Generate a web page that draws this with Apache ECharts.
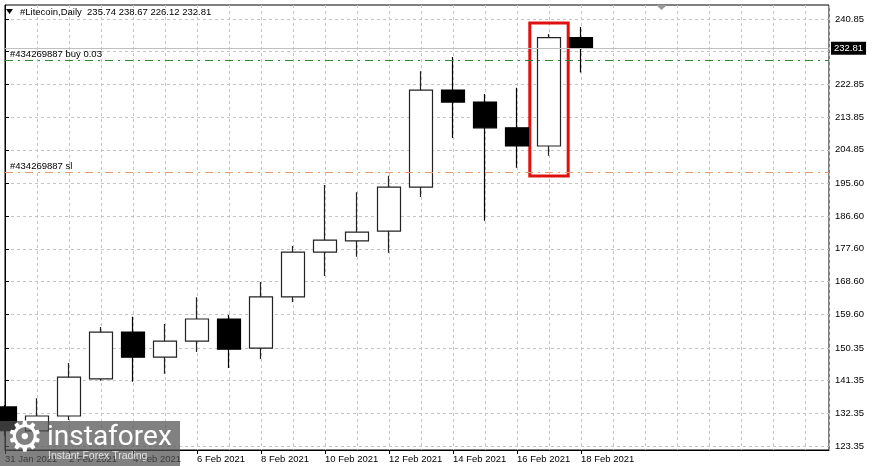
<!DOCTYPE html>
<html>
<head>
<meta charset="utf-8">
<script src="https://cdn.jsdelivr.net/npm/echarts@6/dist/echarts.min.js"></script>
<style>
html,body{margin:0;padding:0;background:#fff;}
#c{width:872px;height:466px;}
</style>
</head>
<body>
<div id="c"></div>
<script>
// ---- data ----
const dates = ['31 Jan 2021','1 Feb 2021','2 Feb 2021','3 Feb 2021','4 Feb 2021','5 Feb 2021','6 Feb 2021','7 Feb 2021','8 Feb 2021','9 Feb 2021','10 Feb 2021','11 Feb 2021','12 Feb 2021','13 Feb 2021','14 Feb 2021','15 Feb 2021','16 Feb 2021','17 Feb 2021','18 Feb 2021'];
const opens  = [134.1, 127.5, 131.6, 141.8, 154.7, 147.8, 152.2, 158.3, 150.3, 164.4, 176.7, 179.8, 182.5, 194.6, 221.3, 218.0, 210.9, 205.9, 235.74];
const closes = [127.6, 131.6, 142.3, 154.7, 147.8, 152.2, 158.3, 150.0, 164.4, 176.7, 180.0, 182.2, 194.6, 221.3, 218.0, 210.9, 205.9, 235.74, 232.81];
const lows   = [126.0, 126.0, 130.5, 141.3, 141.0, 143.2, 149.2, 144.8, 147.3, 163.0, 170.1, 175.4, 176.5, 191.9, 208.1, 185.3, 199.9, 203.2, 226.12];
const highs  = [134.6, 136.5, 146.2, 156.1, 158.9, 156.9, 164.3, 159.4, 168.5, 178.4, 195.2, 193.2, 197.7, 226.5, 230.4, 220.2, 221.9, 236.7, 238.67];
const yTickValues  = [123.35,132.35,141.35,150.35,159.60,168.60,177.60,186.60,195.60,204.85,213.85,222.85,231.85,240.85];
const yLabelValues = [123.35,132.35,141.35,150.35,159.60,168.60,177.60,186.60,195.60,204.85,213.85,222.85,240.85];
const bidPrice = 232.81;
const buyPrice = 229.57;
const slPrice = 198.75;
const orderId = '#434269887';
const header = '#Litecoin,Daily  235.74 238.67 226.12 232.81';
const highlightBox = [[16.4, 239.75], [17.6, 197.65]];

const candleData = dates.map((d, i) => [i, opens[i], closes[i], lows[i], highs[i]]);
const xLabelIdx = dates.map((d, i) => i).filter(i => i % 2 === 0);

const FONT = 'Liberation Sans';
const chart = echarts.init(document.getElementById('c'));
const dashGrid = {show: true, lineStyle: {color: '#c4c4c4', type: [3, 3], width: 1}};

chart.setOption({
  animation: false,
  backgroundColor: '#fff',
  textStyle: {fontFamily: FONT},
  grid: {left: 5, top: 5, right: 43, bottom: 16, show: true, borderColor: '#000', borderWidth: 1, backgroundColor: 'transparent'},
  xAxis: [
    {type: 'value', min: 0, max: 25.75, interval: 1,
     axisLine: {show: true, lineStyle: {color: '#000'}}, axisTick: {show: false}, axisLabel: {show: false},
     splitLine: dashGrid},
    {type: 'value', min: 0, max: 25.75, position: 'bottom',
     axisLine: {show: false},
     axisTick: {show: true, length: 4, customValues: xLabelIdx, lineStyle: {color: '#000'}},
     axisLabel: {show: true, customValues: xLabelIdx, align: 'left', margin: 4, color: '#000', fontSize: 9.5, fontFamily: FONT,
                 formatter: v => dates[Math.round(v)] || ''},
     splitLine: {show: false}}
  ],
  yAxis: {type: 'value', position: 'right', min: 122.25, max: 244.70, scale: true,
    axisLine: {show: true, lineStyle: {color: '#000'}},
    axisTick: {show: true, length: 4, inside: false, customValues: yTickValues, lineStyle: {color: '#000'}},
    axisLabel: {show: true, customValues: yLabelValues, margin: 6, color: '#000', fontSize: 9.5, fontFamily: FONT,
                formatter: v => v.toFixed(2)},
    splitLine: dashGrid},
  series: [{
    type: 'candlestick',
    xAxisIndex: 0,
    barWidth: 23,
    encode: {x: 0, y: [1, 2, 3, 4]},
    data: candleData,
    itemStyle: {color: '#fff', color0: '#000', borderColor: '#222', borderColor0: '#000', borderWidth: 1.2},
    markLine: {
      symbol: 'none', silent: true,
      data: [
        {yAxis: bidPrice, lineStyle: {color: '#c0c0c0', type: 'solid', width: 1},
         label: {show: true, position: 'end', distance: 2, formatter: bidPrice.toFixed(2), color: '#fff', backgroundColor: '#000',
                 padding: [2, 3, 1, 3], fontSize: 9.5, fontFamily: FONT}},
        {yAxis: buyPrice, lineStyle: {color: '#2f8a2f', type: [8, 5, 2, 5], width: 1},
         label: {show: true, position: 'insideStartTop', distance: [5, 1], formatter: orderId + ' buy 0.03', color: '#000', fontSize: 9.5, fontFamily: FONT}},
        {yAxis: slPrice, lineStyle: {color: '#e69a6a', type: [8, 5, 2, 5], width: 1},
         label: {show: true, position: 'insideStartTop', distance: [5, 1], formatter: orderId + ' sl', color: '#000', fontSize: 9.5, fontFamily: FONT}}
      ]
    },
    markArea: {
      silent: true,
      itemStyle: {color: 'rgba(0,0,0,0)', borderColor: '#e01010', borderWidth: 3},
      data: [[{xAxis: highlightBox[0][0], yAxis: highlightBox[0][1]}, {xAxis: highlightBox[1][0], yAxis: highlightBox[1][1]}]]
    }
  }],
  graphic: [
    {type: 'polygon', shape: {points: [[6, 9], [13, 9], [9.5, 14]]}, style: {fill: '#000'}, z: 10},
    {type: 'text', left: 20, top: 7, style: {text: header, fill: '#000', font: '9.5px "Liberation Sans"'}, z: 10},
    {type: 'polygon', shape: {points: [[656, 5], [667, 5], [661.5, 10]]}, style: {fill: '#9a9a9a'}, z: 10},
    {type: 'rect', left: 0, top: 421, shape: {width: 180, height: 45}, style: {fill: 'rgba(80,80,80,0.72)'}, z: 20},
    {type: 'text', left: 6, top: 419, style: {text: '\u2699', fill: '#fff', font: '42px "DejaVu Sans"'}, z: 21},
    {type: 'text', left: 47, top: 424, style: {text: 'instaforex', fill: '#fff', font: '28px Roboto'}, z: 21},
    {type: 'text', left: 48, top: 451, style: {text: 'Instant Forex Trading', fill: 'rgba(235,235,235,0.9)', font: '10.5px "Liberation Sans"'}, z: 21}
  ]
});
</script>
</body>
</html>
